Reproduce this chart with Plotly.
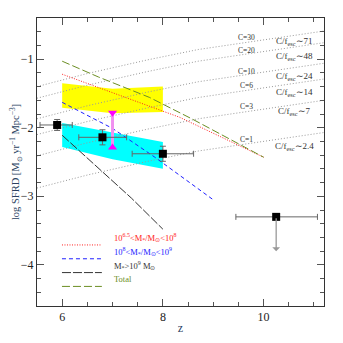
import plotly.graph_objects as go

# observed SFRD points (z, log SFRD) with errors
obs_z = [5.9, 6.8, 8.0]
obs_y = [-1.96, -2.14, -2.38]
obs_zerr_lo = [0.34, 0.47, 0.61]
obs_zerr_hi = [0.30, 0.48, 0.61]
obs_yerr = [0.08, 0.11, 0.11]

# upper limit at z~10
ul_z = [10.25]
ul_y = [-3.30]
ul_zerr_lo = [0.80]
ul_zerr_hi = [0.82]
ul_end = -3.80

# magenta range at z=7
mag_z = [7.0, 7.0]
mag_y = [-1.78, -2.29]

# shaded bands
band_z = [6.0, 7.0, 8.0]
yellow_hi = [-1.35, -1.43, -1.40]
yellow_lo = [-1.71, -1.79, -1.77]
cyan_hi = [-1.93, -2.07, -2.21]
cyan_lo = [-2.28, -2.46, -2.60]

# model curves
red_z = [6.0, 7.0, 7.74, 8.34, 10.0]
red_y = [-1.22, -1.49, -1.68, -1.85, -2.43]
blue_z = [6.0, 7.0, 7.84, 8.98]
blue_y = [-1.63, -2.01, -2.43, -3.04]
black_z = [6.0, 7.38, 8.0]
black_y = [-2.11, -3.03, -3.48]
total_z = [6.0, 6.72, 7.74, 8.6, 10.0]
total_y = [-1.03, -1.26, -1.56, -1.88, -2.43]

# critical SFRD lines for different clumping factors
crit_z = [5.5, 6.5, 7.7, 8.7, 9.9, 11.2]
crit_lines = {
    "30": [-1.40, -1.21, -1.01, -0.86, -0.73, -0.59],
    "20": [-1.57, -1.38, -1.18, -1.03, -0.90, -0.76],
    "10": [-1.87, -1.68, -1.48, -1.33, -1.20, -1.06],
    "6": [-2.10, -1.91, -1.71, -1.56, -1.43, -1.29],
    "3": [-2.41, -2.22, -2.02, -1.87, -1.74, -1.60],
    "1": [-2.88, -2.69, -2.49, -2.34, -2.21, -2.07],
}
c_label_y = [-0.68, -0.87, -1.175, -1.39, -1.69, -2.17]
fesc_labels = ["71", "48", "24", "14", "7", "2.4"]
fesc_label_y = [-0.74, -0.96, -1.26, -1.49, -1.77, -2.28]

SERIF = "Liberation Serif"

models = [
    (red_z, red_y, "#ff2020", "1px,1.5px",
     "10<sup>6.5</sup>&lt;M<sub>*</sub>/M<sub>⊙</sub>&lt;10<sup>8</sup>"),
    (blue_z, blue_y, "#2020ff", "4px,3px",
     "10<sup>8</sup>&lt;M<sub>*</sub>/M<sub>⊙</sub>&lt;10<sup>9</sup>"),
    (black_z, black_y, "#333333", "9px,2px",
     "M<sub>*</sub>&gt;10<sup>9</sup> M<sub>⊙</sub>"),
    (total_z, total_y, "#6b8e23", "8px,3px", "Total"),
]

fig = go.Figure()

fig.add_trace(go.Scatter(
    x=band_z + band_z[::-1], y=yellow_hi + yellow_lo[::-1],
    fill="toself", fillcolor="#ffff00", line=dict(width=0),
    mode="lines", hoverinfo="skip"))
fig.add_trace(go.Scatter(
    x=band_z + band_z[::-1], y=cyan_hi + cyan_lo[::-1],
    fill="toself", fillcolor="#00ffff", line=dict(width=0),
    mode="lines", hoverinfo="skip"))

for c, vals in crit_lines.items():
    fig.add_trace(go.Scatter(
        x=crit_z, y=vals, mode="lines",
        line=dict(color="#999999", width=1, dash="1px,2px"), hoverinfo="skip"))

# model curves + hand-placed legend inside the frame
leg_row_y = [0.212, 0.164, 0.116, 0.068]
for (mz, my, col, dash, label), ry in zip(models, leg_row_y):
    fig.add_trace(go.Scatter(x=mz, y=my, mode="lines",
                             line=dict(color=col, width=1, dash=dash)))
    fig.add_shape(type="line", xref="paper", yref="paper", x0=0.087, x1=0.226,
                  y0=ry, y1=ry, line=dict(color=col, width=1, dash=dash))
    fig.add_annotation(xref="paper", yref="paper", x=0.262, y=ry, text=label,
                       xanchor="left", showarrow=False,
                       font=dict(family=SERIF, size=8.5, color=col))

fig.add_trace(go.Scatter(
    x=mag_z, y=mag_y, mode="lines+markers",
    line=dict(color="#f090f0", width=3),
    marker=dict(symbol=["triangle-down", "triangle-up"], size=8, color="#ff00ff"),
    hoverinfo="skip"))

fig.add_trace(go.Scatter(
    x=obs_z, y=obs_y, mode="markers",
    marker=dict(symbol="square", size=8, color="black"),
    error_x=dict(type="data", symmetric=False, array=obs_zerr_hi, arrayminus=obs_zerr_lo,
                 color="#666666", thickness=1, width=3),
    error_y=dict(type="data", array=obs_yerr, color="#666666", thickness=1, width=3)))
fig.add_trace(go.Scatter(
    x=ul_z, y=ul_y, mode="markers",
    marker=dict(symbol="square", size=8, color="black"),
    error_x=dict(type="data", symmetric=False, array=ul_zerr_hi, arrayminus=ul_zerr_lo,
                 color="#666666", thickness=1, width=3)))
fig.add_annotation(x=ul_z[0], y=ul_end, ax=ul_z[0], ay=ul_y[0], xref="x", yref="y",
                   axref="x", ayref="y", text="", showarrow=True, arrowhead=1,
                   arrowsize=1, arrowwidth=1.3, arrowcolor="#999999")

for (c, vals), ly in zip(crit_lines.items(), c_label_y):
    fig.add_annotation(x=9.66, y=ly, text=f"C={c}", showarrow=False,
                       font=dict(family=SERIF, size=7.5, color="#333333"))
for lab, ly in zip(fesc_labels, fesc_label_y):
    fig.add_annotation(x=10.62, y=ly, text=f"C/f<sub>esc</sub>∼{lab}", showarrow=False,
                       font=dict(family=SERIF, size=9, color="#333333"))

axis_common = dict(
    showgrid=False, zeroline=False, showline=True, linecolor="#333333", linewidth=1,
    mirror="allticks", ticks="inside", ticklen=7, tickcolor="#555555",
    tickfont=dict(family=SERIF, size=12, color="#222222"), automargin=False,
)
fig.update_xaxes(**axis_common, range=[5.5, 11.2], tick0=6, dtick=2,
                 minor=dict(dtick=0.5, ticks="inside", ticklen=4, tickcolor="#555555"),
                 title=dict(text="z", font=dict(family=SERIF, size=12), standoff=0))
fig.update_yaxes(**axis_common, range=[-4.6, -0.4], tick0=-1, dtick=1,
                 minor=dict(dtick=0.2, ticks="inside", ticklen=4, tickcolor="#555555"),
                 title=dict(text="log SFRD [M<sub>⊙</sub> yr<sup>−1</sup> Mpc<sup>−3</sup>]",
                            font=dict(family=SERIF, size=10.5), standoff=4))

# page body adds an 8px offset, so the figure is 335px and margins are shifted
fig.update_layout(
    width=335, height=335,
    margin=dict(l=29, r=19, t=10, b=37),
    plot_bgcolor="white", paper_bgcolor="white",
    showlegend=False,
)

fig.write_html("out.html")
